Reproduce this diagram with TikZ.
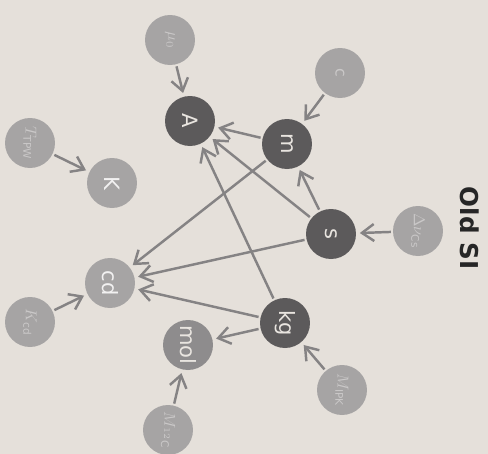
\documentclass[tikz,border=0pt]{standalone}
\usepackage{fontspec}
\setmainfont{DejaVu Sans}
\usepackage{tikz}
\usetikzlibrary{arrows.meta, positioning}
\definecolor{paper}{HTML}{E5E0DA}
\definecolor{darkunit}{HTML}{5C5A5B}
\definecolor{midunit}{HTML}{8E8C8D}
\definecolor{lightunit}{HTML}{A6A4A4}
\definecolor{linkgray}{HTML}{858384}
\tikzset{
  unit/.style={circle, minimum size=1cm, inner sep=0pt, text=paper!85!white, font=\fontsize{12}{14}\selectfont, rotate=-90},
  baseunit/.style={unit, fill=darkunit},
  derived/.style={unit, fill=midunit},
  constant/.style={unit, fill=lightunit, text=lightunit!60!white, font=\fontsize{9}{11}\selectfont},
  link/.style={-{Straight Barb[length=2.4mm, width=3.4mm, line width=1.4pt]}, draw=linkgray, line width=1.4pt, shorten >=2pt, shorten <=1pt}
}
\begin{document}
\begin{tikzpicture}[x=0.02cm, y=-0.02cm]
% Paper
\fill[paper] (0,0) rectangle (488,454);
\useasboundingbox (0,0) rectangle (488,454);
%
% Base units
\node[baseunit] (A) at (190,121) {A};
\node[baseunit] (m) at (287,144) {m};
\node[baseunit] (s) at (331,234) {s};
\node[baseunit] (kg) at (285,323) {kg};
\node[derived] (mol) at (188,345) {mol};
\node[constant, text=white!85!lightunit, font=\fontsize{12}{14}\selectfont] (K) at (112,183) {K};
\node[constant, text=white!85!lightunit, font=\fontsize{12}{14}\selectfont] (cd) at (110,283) {cd};
%
% Defining constants
\node[constant] (mu) at (170,40) {$\mu_0$};
\node[constant] (c) at (340,73) {c};
\node[constant] (nu) at (418,231) {$\Delta\nu_{\mathrm{Cs}}$};
\node[constant] (T) at (30,143) {$T_{\mathrm{TPW}}$};
\node[constant] (Kcd) at (30,322) {$K_{\mathrm{cd}}$};
\node[constant] (ipk) at (342,390) {$M_{\mathrm{IPK}}$};
\node[constant] (C) at (168,430) {$M_{^{12}\mathrm{C}}$};
%
% Title
\node[rotate=-90, font=\bfseries\fontsize{14}{16}\selectfont, text=black!85] (title) at (470,228) {Old SI};
%
% Dependencies
\draw[link] (mu) -- (A);
\draw[link] (m) -- (A);
\draw[link] (s) -- (A);
\draw[link] (kg) -- (A);
\draw[link] (c) -- (m);
\draw[link] (s) -- (m);
\draw[link] (nu) -- (s);
\draw[link] (T) -- (K);
\draw[link] (Kcd) -- (cd);
\draw[link] (m) -- (cd);
\draw[link] (s) -- (cd);
\draw[link] (kg) -- (cd);
\draw[link] (kg) -- (mol);
\draw[link] (C) -- (mol);
\draw[link] (ipk) -- (kg);
\end{tikzpicture}
\end{document}
